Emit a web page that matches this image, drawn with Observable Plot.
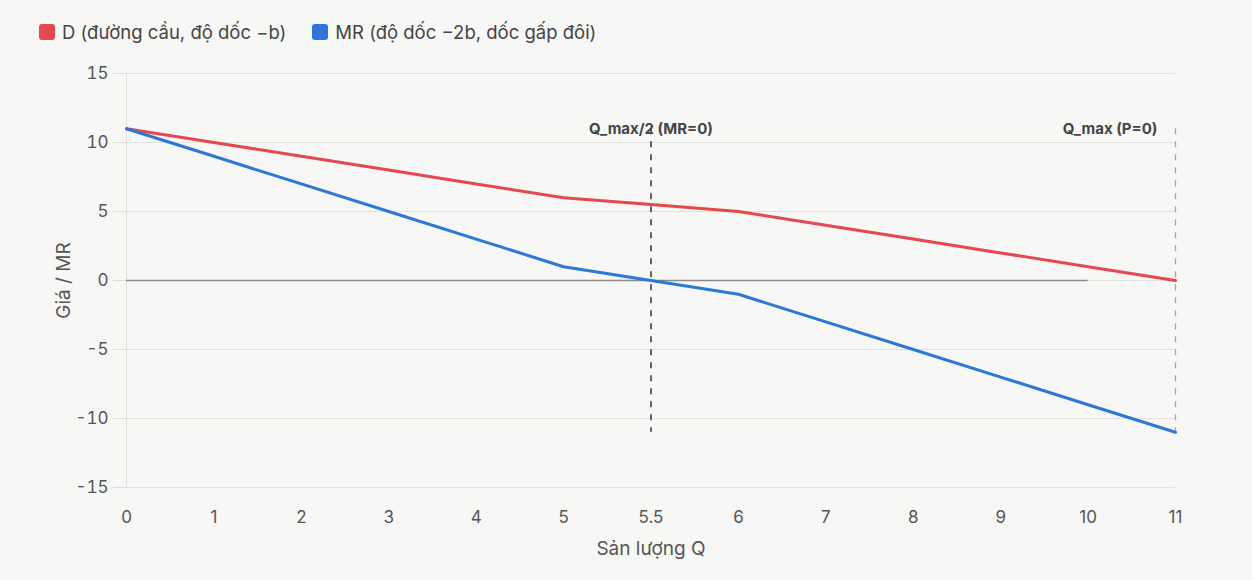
<!DOCTYPE html>
<html>
<head>
<meta charset="utf-8">
<script src="https://cdn.jsdelivr.net/npm/d3@7"></script>
<script src="https://cdn.jsdelivr.net/npm/@observablehq/plot@0.6"></script>
<style>
  html, body { margin: 0; padding: 0; background: #f7f7f5; }
  body { width: 1252px; height: 580px; overflow: hidden; font-family: Inter, "Liberation Sans", sans-serif; }
  #legend { height: 50px; display: flex; align-items: center; padding-left: 39px; padding-top: 14px; box-sizing: border-box; font-size: 18.5px; color: #444; }
  .item { display: flex; align-items: center; margin-right: 26px; }
  .sw { width: 16px; height: 16px; border-radius: 3px; margin-right: 7px; }
  svg g[aria-label="x-axis label"] text, svg g[aria-label="y-axis label"] text { font-size: 19px; }
</style>
</head>
<body>
<div id="legend"></div>
<div id="chart"></div>
<script>
const categories = ["0","1","2","3","4","5","5.5","6","7","8","9","10","11"];
const dValues  = [11,10,9,8,7,6,5.5,5,4,3,2,1,0];
const mrValues = [11,9,7,5,3,1,0,-1,-3,-5,-7,-9,-11];
const seriesNames = ["D (đường cầu, độ dốc −b)", "MR (độ dốc −2b, dốc gấp đôi)"];
const seriesColors = ["#e5484d", "#2b78d9"];
const yTicks = [-15,-10,-5,0,5,10,15];
const markers = [
  {x: "5.5", y: 11, label: "Q_max/2 (MR=0)"},
  {x: "11", y: 11, label: "Q_max (P=0)"}
];
const zeroLine = [{y: 0, from: "0", to: "10"}];

const legend = document.getElementById("legend");
seriesNames.forEach((n, i) => {
  const it = document.createElement("div"); it.className = "item";
  const sw = document.createElement("div"); sw.className = "sw"; sw.style.background = seriesColors[i];
  const tx = document.createElement("span"); tx.textContent = n;
  it.appendChild(sw); it.appendChild(tx); legend.appendChild(it);
});

const data = [];
categories.forEach((q, i) => {
  data.push({q, v: dValues[i], s: seriesNames[0]});
  data.push({q, v: mrValues[i], s: seriesNames[1]});
});

const chart = Plot.plot({
  width: 1252,
  height: 530,
  marginLeft: 126,
  marginRight: 77,
  marginTop: 23,
  marginBottom: 93,
  style: {background: "transparent", fontFamily: "Inter, 'Liberation Sans', sans-serif", fontSize: "16px", color: "#555"},
  x: {type: "point", domain: categories, padding: 0, round: false, label: "Sản lượng Q", labelAnchor: "center"},
  y: {domain: [-15, 15], ticks: yTicks, label: "Giá / MR", labelAnchor: "center", labelArrow: "none"},
  color: {domain: seriesNames, range: seriesColors},
  marks: [
    Plot.gridY(yTicks, {stroke: "#e2e2de", strokeOpacity: 1, strokeWidth: 1}),
    Plot.ruleX([categories[0]], {stroke: "#e2e2de", y1: -15, y2: 15}),
    Plot.axisY(yTicks, {tickSize: 13, tickPadding: 5, stroke: "#dcdcd8", fill: "#555", tickFormat: d => String(d), label: "Giá / MR", labelAnchor: "center", labelOffset: 70, labelArrow: "none", fontSize: 17}),
    Plot.axisX(categories, {tickSize: 0, tickPadding: 23, fill: "#555", label: "Sản lượng Q", labelAnchor: "center", labelOffset: 67, fontSize: 17}),
    Plot.ruleY(zeroLine, {y: "y", x1: "from", x2: "to", stroke: "#8a8a88", strokeWidth: 1.5}),
    Plot.ruleX([markers[0]], {x: "x", y1: 11, y2: -11, stroke: "#333", strokeWidth: 1.5, strokeDasharray: "6,7"}),
    Plot.ruleX([markers[1]], {x: "x", y1: 11, y2: -11, stroke: "#a5a5a5", strokeWidth: 1.3, strokeDasharray: "6,7"}),
    Plot.line(data, {x: "q", y: "v", z: "s", stroke: "s", strokeWidth: 3}),
    Plot.text([markers[0]], {x: "x", y: "y", text: "label", fontWeight: "bold", fontSize: 15, fill: "#444", textAnchor: "middle"}),
    Plot.text([markers[1]], {x: "x", y: "y", text: "label", fontWeight: "bold", fontSize: 15, fill: "#444", textAnchor: "end", dx: -18})
  ]
});
document.getElementById("chart").appendChild(chart);
</script>
</body>
</html>
